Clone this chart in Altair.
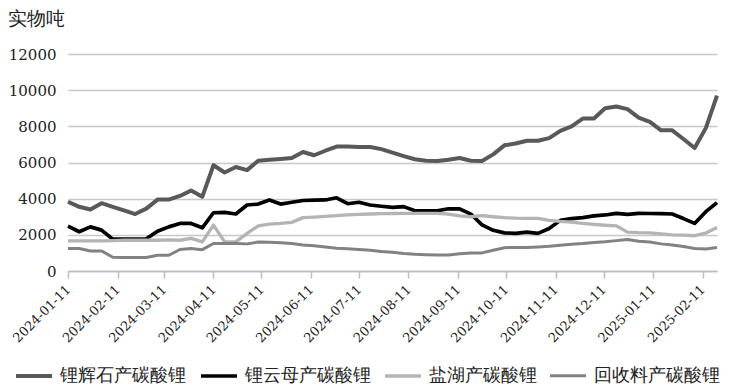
import altair as alt
import pandas as pd

dates = [d.strftime("%Y-%m-%dT00:00:00") for d in pd.date_range("2024-01-11", periods=59, freq="7D")]

series_names = ["锂辉石产碳酸锂", "锂云母产碳酸锂", "盐湖产碳酸锂", "回收料产碳酸锂"]

spodumene = [3830, 3550, 3400, 3750, 3550, 3350, 3150, 3450, 3950, 3950,
             4150, 4450, 4100, 5850, 5450, 5750, 5580, 6100, 6150, 6200,
             6250, 6580, 6400, 6650, 6880, 6880, 6860, 6860, 6740, 6550,
             6350, 6180, 6100, 6080, 6150, 6250, 6100, 6080, 6450, 6950,
             7050, 7200, 7200, 7350, 7750, 8000, 8430, 8430, 9000, 9100,
             8950, 8480, 8250, 7780, 7780, 7300, 6800, 7900, 9700]

lepidolite = [2480, 2170, 2440, 2260, 1760, 1760, 1760, 1780, 2200, 2440,
              2630, 2630, 2390, 3220, 3240, 3150, 3650, 3700, 3930, 3700,
              3800, 3900, 3920, 3930, 4050, 3720, 3800, 3650, 3580, 3520,
              3560, 3330, 3330, 3330, 3440, 3440, 3150, 2550, 2250, 2110,
              2080, 2150, 2080, 2350, 2800, 2900, 2950, 3050, 3100, 3190,
              3130, 3190, 3180, 3170, 3150, 2900, 2630, 3280, 3780]

salt_lake = [1670, 1670, 1670, 1670, 1680, 1700, 1700, 1700, 1700, 1720,
             1700, 1800, 1610, 2540, 1610, 1610, 2080, 2500, 2590, 2630,
             2690, 2950, 2980, 3020, 3060, 3100, 3130, 3150, 3170, 3180,
             3190, 3190, 3190, 3190, 3150, 3050, 3000, 3060, 3000, 2950,
             2920, 2910, 2910, 2800, 2740, 2700, 2630, 2580, 2530, 2500,
             2150, 2120, 2110, 2050, 2000, 1980, 1950, 2100, 2410]

recycled = [1240, 1240, 1110, 1110, 760, 740, 740, 750, 870, 870,
            1190, 1240, 1180, 1520, 1520, 1520, 1500, 1600, 1590, 1560,
            1520, 1440, 1400, 1330, 1260, 1230, 1190, 1150, 1080, 1040,
            970, 920, 900, 880, 880, 950, 990, 1000, 1150, 1290,
            1300, 1300, 1330, 1370, 1430, 1480, 1520, 1580, 1620, 1680,
            1740, 1650, 1600, 1500, 1440, 1350, 1250, 1220, 1300]

y_ticks = [0, 2000, 4000, 6000, 8000, 10000, 12000]
x_tick_months = [(2024, m) for m in range(1, 13)] + [(2025, 1), (2025, 2)]

colors = ["#595959", "#000000", "#b4b4b4", "#828282"]
widths = [4, 3, 4, 4]

rows = []
for name, vals in zip(series_names, [spodumene, lepidolite, salt_lake, recycled]):
    for d, v in zip(dates, vals):
        rows.append({"date": d, "value": v, "series": name})
df = pd.DataFrame(rows)

FONT = "DejaVu Serif"

x_values = [alt.DateTime(year=y, month=m, date=11) for y, m in x_tick_months]

chart = alt.Chart(df).mark_line(strokeJoin="round").encode(
    x=alt.X("date:T",
            scale=alt.Scale(domain=[alt.DateTime(year=2024, month=1, date=11),
                                    alt.DateTime(year=2025, month=2, date=20)], nice=False),
            axis=alt.Axis(values=x_values, format="%Y-%m-%d", labelAngle=-45,
                          labelAlign="right", labelBaseline="middle", labelFontSize=13,
                          labelPadding=9, labelOverlap=False, tickSize=7,
                          tickColor="#bdbdbd", tickWidth=1.5, domainColor="#bdbdbd",
                          domainWidth=1.5, grid=False, title=None, labelColor="#222",
                          labelFont=FONT)),
    y=alt.Y("value:Q",
            scale=alt.Scale(domain=[0, 12000], nice=False),
            axis=alt.Axis(values=y_ticks, format="d", title="实物吨", titleAngle=0,
                          titleAlign="left", titleBaseline="middle", titleX=-61, titleY=-36,
                          titleFontSize=19, titleFontWeight="normal", titleFont=FONT,
                          titleColor="#222",
                          labelFontSize=15, labelPadding=12, labelFont=FONT, labelColor="#222",
                          domain=False, ticks=False, grid=True, gridColor="#c8c8c8",
                          gridWidth=1.5)),
    color=alt.Color("series:N",
                    scale=alt.Scale(domain=series_names, range=colors),
                    sort=series_names,
                    legend=alt.Legend(title=None, orient="none", legendX=-54, legendY=302,
                                      direction="horizontal", columns=4, padding=0,
                                      symbolType="stroke", symbolSize=1296,
                                      symbolStrokeWidth=4, labelFontSize=18,
                                      labelFont=FONT, labelColor="#222",
                                      columnPadding=7, labelOffset=6)),
    strokeWidth=alt.StrokeWidth("series:N",
                                scale=alt.Scale(domain=series_names, range=widths),
                                legend=None),
    order=alt.Order("date:T"),
).properties(
    width=649, height=217,
    autosize=alt.AutoSizeParams(type="none"),
    padding={"left": 60, "top": 46, "right": 16, "bottom": 120},
).configure_view(stroke=None)

chart.save("out.html", embed_options={"renderer": "svg", "actions": False})
